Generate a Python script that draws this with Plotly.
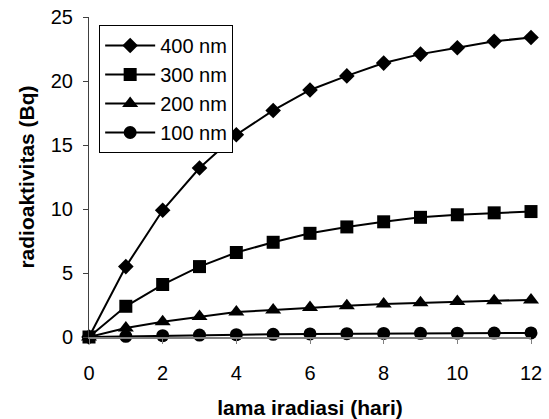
import plotly.graph_objects as go

days = [0, 1, 2, 3, 4, 5, 6, 7, 8, 9, 10, 11, 12]
nm400 = [0, 5.5, 9.9, 13.2, 15.8, 17.7, 19.3, 20.4, 21.4, 22.1, 22.6, 23.1, 23.4]
nm300 = [0, 2.4, 4.1, 5.5, 6.6, 7.4, 8.1, 8.6, 9.0, 9.35, 9.55, 9.7, 9.8]
nm200 = [0, 0.7, 1.2, 1.6, 1.95, 2.1, 2.3, 2.45, 2.58, 2.68, 2.78, 2.84, 2.89]
nm100 = [0, 0.05, 0.1, 0.15, 0.18, 0.21, 0.24, 0.26, 0.28, 0.29, 0.3, 0.31, 0.32]

series = [
    ("400 nm", nm400, "diamond", 12),
    ("300 nm", nm300, "square", 13),
    ("200 nm", nm200, "triangle-up", 14),
    ("100 nm", nm100, "circle", 13),
]

fig = go.Figure()
for name, vals, sym, sz in series:
    fig.add_trace(go.Scatter(
        x=days, y=vals, name=name, mode="lines+markers",
        line=dict(color="black", width=2),
        marker=dict(symbol=sym, size=sz, color="black"),
        cliponaxis=False,
    ))

font = "Liberation Sans, Arial, sans-serif"
fig.update_layout(
    width=549, height=419,
    margin=dict(l=89, r=18, t=17, b=82, autoexpand=False),
    paper_bgcolor="white", plot_bgcolor="white",
    font=dict(family=font, size=20, color="black"),
    showlegend=True,
    legend=dict(
        x=0.023, y=0.975, xanchor="left", yanchor="top",
        bordercolor="black", borderwidth=1, bgcolor="white",
        font=dict(size=20), itemwidth=50, tracegroupgap=0,
    ),
    xaxis=dict(
        range=[0, 12], tickvals=[0, 2, 4, 6, 8, 10, 12],
        showgrid=False, zeroline=False, automargin=False,
        showline=True, linecolor="#808080", linewidth=1.5,
        ticks="outside", ticklen=5, tickcolor="#808080",
        ticklabelstandoff=12,
        title=dict(text="<b>lama iradiasi (hari)</b>", standoff=22,
                   font=dict(size=21)),
    ),
    yaxis=dict(
        range=[0, 25], tickvals=[0, 5, 10, 15, 20, 25],
        showgrid=False, zeroline=False, automargin=False,
        showline=True, linecolor="#404040", linewidth=1,
        ticks="outside", ticklen=5, tickcolor="#404040",
        ticklabelstandoff=6,
        title=dict(text="<b>radioaktivitas (Bq)</b>", standoff=10,
                   font=dict(size=21)),
    ),
)

fig.write_html("out.html", config={"displayModeBar": False},
               post_script="document.body.style.margin='0';")
